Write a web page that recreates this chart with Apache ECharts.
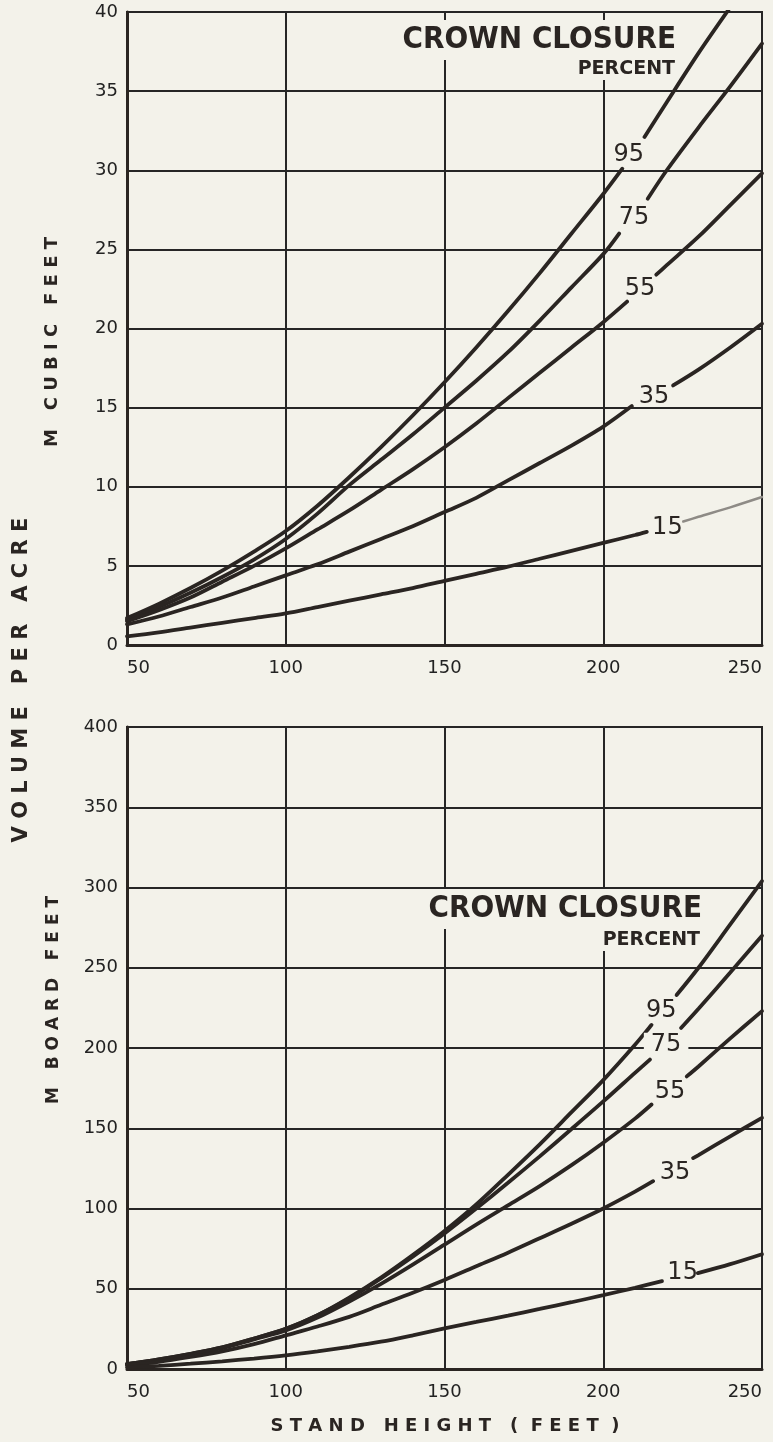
<!DOCTYPE html>
<html>
<head>
    <meta charset="utf-8">
    <title>Volume per acre by stand height</title>
    <script src="https://cdn.jsdelivr.net/npm/echarts@6/dist/echarts.min.js"></script>
    <style>
        html, body { margin: 0; padding: 0; background: #f3f2ea; }
    </style>
</head>
<body>
    <div id="chart" style="width: 773px;height:1442px;"></div>
    <script type="text/javascript">
// stand height (feet) on x, volume on y; null = break in the curve where its label sits
var cubic95 = [[50,1.7],[60,2.6],[70,3.6],[80,4.7],[90,5.9],[100,7.2],[110,8.8],[120,10.6],[130,12.5],[140,14.5],[150,16.6],[160,18.8],[170,21.1],[180,23.5],[190,26.0],[200,28.5],[206,30.1],null,[213,32.1],[220,34.3],[230,37.4],[240,40.3]];
var cubic75 = [[50,1.6],[60,2.4],[70,3.3],[80,4.3],[90,5.4],[100,6.7],[110,8.3],[120,10.1],[130,11.7],[140,13.3],[150,15.0],[160,16.7],[170,18.5],[180,20.5],[190,22.6],[200,24.7],[205,26.0],null,[214,28.2],[220,30.0],[230,32.7],[240,35.3],[250,38.0]];
var cubic55 = [[50,1.5],[60,2.2],[70,3.0],[80,4.0],[90,5.0],[100,6.1],[110,7.3],[120,8.5],[130,9.8],[140,11.1],[150,12.5],[160,14.0],[170,15.6],[180,17.2],[190,18.8],[200,20.4],[207.5,21.7],null,[216.7,23.4],[220,24.0],[230,25.8],[240,27.8],[250,29.8]];
var cubic35 = [[50,1.3],[60,1.8],[70,2.4],[80,3.0],[90,3.7],[100,4.4],[110,5.1],[120,5.9],[130,6.7],[140,7.5],[150,8.4],[160,9.3],[170,10.4],[180,11.5],[190,12.6],[200,13.8],[209,15.1],null,[222,16.4],[230,17.4],[240,18.8],[250,20.3]];
var cubic15 = [[50,0.55],[60,0.8],[70,1.1],[80,1.4],[90,1.7],[100,2.0],[110,2.4],[120,2.8],[130,3.2],[140,3.6],[150,4.05],[160,4.5],[170,4.95],[180,5.45],[190,5.95],[200,6.45],[210,6.95],[213.7,7.15],null,[225.2,7.8],[230,8.1],[240,8.7],[250,9.35]];

var board95 = [[50,3],[60,6],[70,9.5],[80,13.5],[90,19],[100,25],[110,33.5],[120,44.5],[130,57],[140,71],[150,86],[160,102.5],[170,121],[180,140],[190,160],[200,180],[210,202],[215.2,214.4],null,[223.1,233],[230,250],[240,277],[250,304]];
var board75 = [[50,3],[60,6],[70,9.5],[80,13.5],[90,19],[100,25],[110,33.5],[120,44],[130,56.5],[140,70],[150,84.5],[160,100],[170,116],[180,132.5],[190,149.5],[200,166.7],[210,184.5],[214.7,192.8],null,[224.5,212.5],[230,224.5],[240,247],[250,270]];
var board55 = [[50,3],[60,5.5],[70,9],[80,13],[90,18.5],[100,24],[110,32],[120,42],[130,53],[140,65],[150,77.5],[160,90],[170,102],[180,114],[190,127],[200,141],[210,156],[215.2,164.8],null,[226.3,182.3],[230,188.5],[240,206],[250,223]];
var board35 = [[50,2.5],[60,4.5],[70,7.5],[80,11],[90,15.5],[100,21],[110,26.5],[120,32.5],[130,40],[140,47.5],[150,55.5],[160,64],[170,72.5],[180,81.5],[190,90.5],[200,100],[210,110.5],[215.7,117],null,[228.3,131.4],[230,133.3],[240,145],[250,156.5]];
var board15 = [[50,1],[60,2],[70,3.3],[80,4.8],[90,6.5],[100,8.5],[110,11],[120,13.8],[130,17],[140,21],[150,25.3],[160,29.3],[170,33.3],[180,37.4],[190,41.6],[200,46],[210,50.6],[218.5,54.7],null,[229.8,59.7],[240,65.3],[250,71.5]];

// crown closure percent labels: [text, height, volume]
var cubicLabels = [['95',208,31.0],['75',209.7,27.0],['55',211.6,22.5],['35',216,15.7],['15',220.2,7.4]];
var boardLabels = [['95',218.3,223.5],['75',219.8,202],['55',221,173],['35',222.6,122],['15',225,59.8]];

var heightTicks = [50, 250, 50];   // min, max, interval
var cubicTicks = [0, 40, 5];
var boardTicks = [0, 400, 50];

var BG = '#f3f2ea';
var INK = '#2a2522';
var FONT = 'DejaVu Sans';

var myChart = echarts.init(document.getElementById('chart'));

function segments(arr) {
    var out = [[]];
    arr.forEach(function (p) {
        if (p === null) out.push([]);
        else out[out.length - 1].push(p);
    });
    return out;
}

var series = [];
var panels = [
    {curves: [['95', cubic95], ['75', cubic75], ['55', cubic55], ['35', cubic35], ['15', cubic15]], labels: cubicLabels},
    {curves: [['95', board95], ['75', board75], ['55', board55], ['35', board35], ['15', board15]], labels: boardLabels}
];
panels.forEach(function (p, g) {
    p.curves.forEach(function (c) {
        segments(c[1]).forEach(function (seg, k) {
            // the top 15% curve is faint after its label
            var faint = (g === 0 && c[0] === '15' && k === 1);
            series.push({
                type: 'line',
                xAxisIndex: g,
                yAxisIndex: g,
                data: seg,
                smooth: 0.3,
                symbol: 'none',
                silent: true,
                z: 3,
                lineStyle: {color: faint ? '#8e8b86' : INK, width: faint ? 2.5 : 3.8, cap: 'round'}
            });
        });
    });
    series.push({
        type: 'scatter',
        xAxisIndex: g,
        yAxisIndex: g,
        symbolSize: 0,
        silent: true,
        z: 5,
        itemStyle: {opacity: 1},
        data: p.labels.map(function (l) {
            var item = {name: l[0], value: [l[1], l[2]]};
            if (g === 1 && l[0] === '75') item.label = {backgroundColor: BG, padding: [0, 7]};
            return item;
        }),
        label: {show: true, position: 'inside', formatter: '{b}', fontSize: 24, fontFamily: FONT, color: INK}
    });
});

function xAx(g) {
    return {
        type: 'value', gridIndex: g,
        min: heightTicks[0], max: heightTicks[1], interval: heightTicks[2],
        axisLine: {show: true, onZero: false, lineStyle: {color: INK, width: 3}},
        axisTick: {show: false},
        splitLine: {show: true, lineStyle: {color: '#262626', width: 2}},
        axisLabel: {fontSize: 18, fontFamily: FONT, color: '#222', margin: 14, alignMinLabel: 'left', alignMaxLabel: 'right'}
    };
}
function yAx(g, t) {
    return {
        type: 'value', gridIndex: g,
        min: t[0], max: t[1], interval: t[2],
        axisLine: {show: true, onZero: false, lineStyle: {color: INK, width: 3}},
        axisTick: {show: false},
        splitLine: {show: true, lineStyle: {color: '#262626', width: 2}},
        axisLabel: {fontSize: 18, fontFamily: FONT, color: '#222', margin: 9}
    };
}

var titleBig = {fontFamily: 'DejaVu Sans Condensed', fontWeight: 'bold', fontSize: 31, color: INK, lineHeight: 32};
var titleSmall = {fontFamily: FONT, fontWeight: 'bold', fontSize: 19, color: INK, lineHeight: 20};

option = {
    backgroundColor: BG,
    animation: false,
    title: [
        {text: 'CROWN CLOSURE', right: 93, top: 20, padding: [4, 4, 4, 4], backgroundColor: BG, textStyle: titleBig},
        {text: 'PERCENT', right: 96, top: 58, padding: [1, 2, 1, 2], backgroundColor: BG, textStyle: titleSmall},
        {text: 'CROWN CLOSURE', right: 67, top: 889, padding: [4, 4, 4, 4], backgroundColor: BG, textStyle: titleBig},
        {text: 'PERCENT', right: 71, top: 929, padding: [1, 2, 1, 2], backgroundColor: BG, textStyle: titleSmall}
    ],
    grid: [
        {left: 127, right: 11, top: 12, height: 633, show: true, borderColor: INK, borderWidth: 2, backgroundColor: 'transparent'},
        {left: 127, right: 11, top: 727, height: 642, show: true, borderColor: INK, borderWidth: 2, backgroundColor: 'transparent'}
    ],
    xAxis: [xAx(0), xAx(1)],
    yAxis: [yAx(0, cubicTicks), yAx(1, boardTicks)],
    graphic: [
        {type: 'text', x: 22, y: 680, rotation: Math.PI / 2,
            style: {text: 'V O L U M E   P E R   A C R E', font: 'bold 21px "DejaVu Sans"', fill: INK,
                textAlign: 'center', textVerticalAlign: 'middle', align: 'center', verticalAlign: 'middle'}},
        {type: 'text', x: 52, y: 342, rotation: Math.PI / 2,
            style: {text: 'M   C U B I C   F E E T', font: 'bold 18px "DejaVu Sans"', fill: INK,
                textAlign: 'center', textVerticalAlign: 'middle', align: 'center', verticalAlign: 'middle'}},
        {type: 'text', x: 54, y: 1000, rotation: Math.PI / 2,
            style: {text: 'M   B O A R D   F E E T', font: 'bold 17px "DejaVu Sans"', fill: INK,
                textAlign: 'center', textVerticalAlign: 'middle', align: 'center', verticalAlign: 'middle'}},
        {type: 'text', x: 445, y: 1426,
            style: {text: 'S T A N D   H E I G H T   (  F E E T  )', font: 'bold 18px "DejaVu Sans"', fill: INK,
                textAlign: 'center', textVerticalAlign: 'middle', align: 'center', verticalAlign: 'middle'}}
    ],
    series: series
};

myChart.setOption(option);
    </script>
</body>
</html>
